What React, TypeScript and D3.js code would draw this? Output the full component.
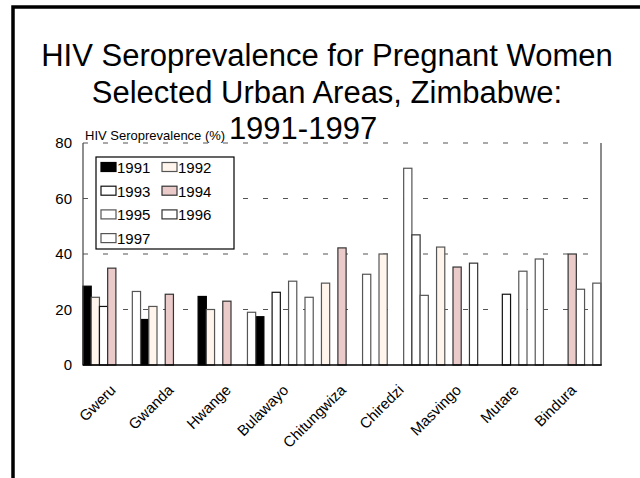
import React from "react";
import * as d3 from "d3";

// Urban sites surveyed
const categories = [
  "Gweru",
  "Gwanda",
  "Hwange",
  "Bulawayo",
  "Chitungwiza",
  "Chiredzi",
  "Masvingo",
  "Mutare",
  "Bindura",
];

const years = ["1991", "1992", "1993", "1994", "1995", "1996", "1997"];

// HIV seroprevalence (%) per site; null = not surveyed that year
const v1991 = [28.4, 16.4, 24.7, 17.4, null, null, null, null, null];
const v1992 = [24.4, 21.1, 20.0, null, 29.5, 40.0, 42.5, null, null];
const v1993 = [21.1, null, null, 26.2, null, null, null, 25.5, null];
const v1994 = [34.9, 25.5, 23.0, null, 42.2, null, 35.3, null, 40.0];
const v1995 = [null, null, null, 30.2, null, 70.9, null, 33.8, 27.3];
const v1996 = [null, null, null, null, null, 46.9, 36.7, null, null];
const v1997 = [26.5, null, 19.0, 24.4, 32.7, 25.1, null, 38.2, 29.5];

const yTicks = [0, 20, 40, 60, 80];

const seriesValues: (number | null)[][] = [v1991, v1992, v1993, v1994, v1995, v1996, v1997];
const fills = ["#000000", "#fff5ec", "#ffffff", "#ebcaca", "#ffffff", "#ffffff", "#ffffff"];
const strokes = ["#000000", "#555555", "#111111", "#333333", "#555555", "#333333", "#555555"];

const W = 640;
const H = 478;
const plot = { left: 83, right: 601, top: 143, bottom: 365 };
const FONT = "'Liberation Sans', Arial, Helvetica, sans-serif";

export default function App() {
  const x = d3
    .scaleBand<string>()
    .domain(categories)
    .range([plot.left, plot.right])
    .paddingInner(0)
    .paddingOuter(0);
  const xi = d3
    .scaleBand<string>()
    .domain(years)
    .range([0, x.bandwidth()])
    .padding(0);
  const y = d3.scaleLinear().domain([0, 80]).range([plot.bottom, plot.top]);

  const legendRows = [
    [0, 1],
    [2, 3],
    [4, 5],
    [6],
  ];

  return (
    <div style={{ position: "absolute", left: 0, top: 0 }}>
      <svg width={W} height={H} style={{ display: "block", background: "#fff" }} fontFamily={FONT}>
        <rect x={0} y={0} width={W} height={H} fill="#fff" />
        {/* slide frame */}
        <path d={`M${W},7 H13 V${H}`} fill="none" stroke="#000" strokeWidth={3.5} />

        {/* title */}
        <g fontSize={31} textAnchor="middle" fill="#000">
          <text x={327} y={66}>HIV Seroprevalence for Pregnant Women</text>
          <text x={327} y={102.5}>Selected Urban Areas, Zimbabwe:</text>
          <text x={303} y={139}>1991-1997</text>
        </g>

        {/* y-axis title */}
        <text x={85} y={140} fontSize={13} fill="#000">
          HIV Seroprevalence (%)
        </text>

        {/* gridlines */}
        {yTicks
          .filter((t) => t > 0)
          .map((t) => (
            <line
              key={`g${t}`}
              x1={plot.left}
              x2={plot.right}
              y1={y(t)}
              y2={y(t)}
              stroke="#555"
              strokeWidth={1.2}
              strokeDasharray="5 15"
            />
          ))}

        {/* y tick labels */}
        {yTicks.map((t) => (
          <text
            key={`t${t}`}
            x={72}
            y={y(t)}
            dy="0.35em"
            fontSize={15}
            textAnchor="end"
            fill="#000"
          >
            {t}
          </text>
        ))}

        {/* bars */}
        {seriesValues.map((vals, si) =>
          vals.map((v, ci) =>
            v == null ? null : (
              <rect
                key={`b${si}-${ci}`}
                x={(x(categories[ci]) ?? 0) + (xi(years[si]) ?? 0)}
                y={y(v)}
                width={xi.bandwidth()}
                height={y(0) - y(v)}
                fill={fills[si]}
                stroke={strokes[si]}
                strokeWidth={1.2}
              />
            )
          )
        )}

        {/* plot borders */}
        <line x1={plot.left} x2={plot.left} y1={plot.top} y2={plot.bottom} stroke="#444" strokeWidth={1.2} />
        <line x1={plot.right} x2={plot.right} y1={plot.top} y2={plot.bottom} stroke="#666" strokeWidth={1.5} />
        <line x1={plot.left} x2={plot.right + 0.7} y1={plot.bottom} y2={plot.bottom} stroke="#000" strokeWidth={1.5} />

        {/* category labels */}
        {categories.map((c) => {
          const cx = (x(c) ?? 0) + x.bandwidth() / 2;
          return (
            <text
              key={`c${c}`}
              transform={`translate(${cx + 5},${plot.bottom + 26}) rotate(-45)`}
              fontSize={15}
              textAnchor="end"
              fill="#000"
            >
              {c}
            </text>
          );
        })}

        {/* legend */}
        <g>
          <rect x={96} y={157} width={138} height={92} fill="#fff" stroke="#000" strokeWidth={1.2} />
          {legendRows.map((row, ri) =>
            row.map((si, k) => {
              const bx = 101 + k * 61;
              const by = 173 + ri * 23.7;
              return (
                <g key={`l${si}`}>
                  <rect
                    x={bx}
                    y={by - 10.5}
                    width={15}
                    height={9}
                    fill={fills[si]}
                    stroke={strokes[si]}
                    strokeWidth={1.2}
                  />
                  <text x={bx + 16} y={by} fontSize={15} fill="#000">
                    {years[si]}
                  </text>
                </g>
              );
            })
          )}
        </g>
      </svg>
    </div>
  );
}
